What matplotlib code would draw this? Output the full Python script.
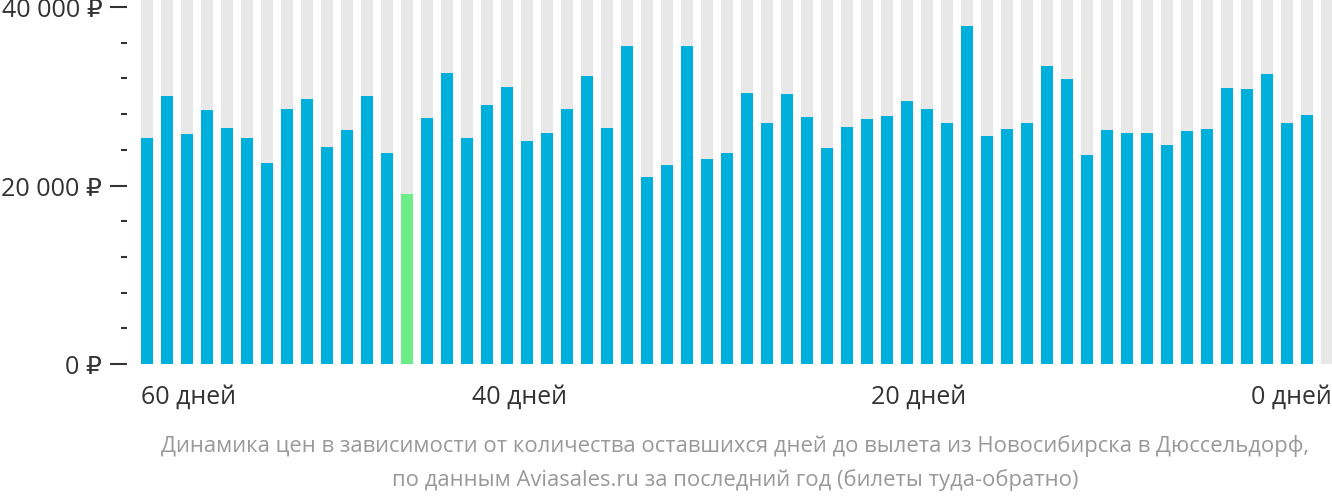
import matplotlib.pyplot as plt
import numpy as np

prices = [
    25300, 30000, 25800, 28500, 26400, 25300, 22500, 28600, 29700, 24300,
    26200, 30000, 23600, 19000, 27600, 32600, 25300, 29000, 31000, 25000,
    25900, 28600, 32300, 26400, 35600, 21000, 22300, 35600, 23000, 23600,
    30400, 27000, 30300, 27700, 24200, 26600, 27500, 27800, 29500, 28600,
    27000, 37900, 25500, 26300, 27000, 33400, 31900, 23400, 26200, 25900,
    25900, 24500, 26100, 26300, 30900, 30800, 32500, 27000, 27900,
]
n_slots = 60
cheapest = int(np.argmin(prices))
x_labels = [(0, "60 дней", "left"), (18.9, "40 дней", "center"),
            (38.9, "20 дней", "center"), (59.55, "0 дней", "right")]
y_ticks = [0, 20000, 40000]
y_labels = ["0 ₽", "20 000 ₽", "40 000 ₽"]
caption = ("Динамика цен в зависимости от количества оставшихся дней до вылета из Новосибирска в Дюссельдорф,\n"
           "по данным Aviasales.ru за последний год (билеты туда-обратно)")

W, H = 1332, 502
plt.rcParams["font.family"] = ["Open Sans", "DejaVu Sans"]
fig = plt.figure(figsize=(W / 100, H / 100), dpi=100)
ax = fig.add_axes([137 / W, 1 - 365 / H, (W - 137) / W, 365 / H])

ymax = 40000 * 365 / 357
x = np.arange(n_slots)
ax.bar(x, [ymax] * n_slots, width=0.6, align="edge", color="#e8e8e8")
colors = ["#6ded85" if i == cheapest else "#00b0dc" for i in range(len(prices))]
ax.bar(np.arange(len(prices)), prices, width=0.6, align="edge", color=colors)

ax.set_xlim(-0.2, 59.55)
ax.set_ylim(0, ymax)
for s in ax.spines.values():
    s.set_visible(False)
ax.spines["left"].set_position(("outward", 7))
ax.set_xticks([])
ax.set_yticks(y_ticks)
ax.set_yticklabels(y_labels)
ax.set_yticks(np.arange(0, 40001, 4000), minor=True)
ax.tick_params(axis="y", which="major", length=12, width=1.5, color="#333333",
               labelsize=18, labelcolor="#333333", pad=6)
ax.tick_params(axis="y", which="minor", length=4, width=1.5, color="#333333")

for pos, label, ha in x_labels:
    ax.text(pos, -0.055, label, transform=ax.get_xaxis_transform(), ha=ha, va="top",
            fontsize=18, color="#333333")

fig.text(735 / W, 1 - 463 / H, caption, ha="center", va="center", fontsize=15.8,
         color="#999999", linespacing=1.7)

fig.savefig("out.png", dpi=100)
